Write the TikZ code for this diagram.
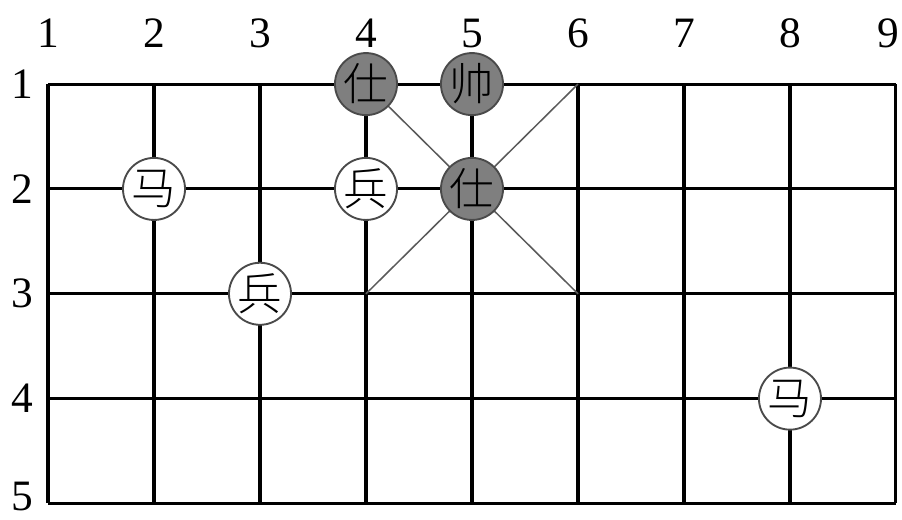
\documentclass[tikz,border=0pt]{standalone}
\usepackage{fontspec}
\setmainfont{Liberation Serif}
\newfontfamily\cjk{Noto Sans CJK SC Light}
\usepackage{xcolor}
\definecolor{piecegray}{HTML}{7f7f7f}
\definecolor{rimgray}{HTML}{4a4a4a}
\definecolor{diaggray}{HTML}{5a5a5a}

\begin{document}
\begin{tikzpicture}[x=3.177cm,y=-3.1425cm,
  gridline/.style={black,line width=2.6pt},
  palace/.style={diaggray,line width=1.3pt},
  blackpiece/.style={circle,draw=rimgray,line width=1.6pt,fill=piecegray,minimum size=1.86cm,inner sep=0pt,font=\cjk\fontsize{38}{40}\selectfont},
  redpiece/.style={circle,draw=rimgray,line width=1.6pt,fill=white,minimum size=1.86cm,inner sep=0pt,font=\cjk\fontsize{38}{40}\selectfont},
  numlabel/.style={inner sep=0pt,font=\fontsize{37}{40}\selectfont}]
  \useasboundingbox (0.547,0.198) rectangle (9.057,5.151);
  % board
  \foreach \r in {1,...,5}
    \draw[gridline] (1,\r) -- (9,\r);
  \foreach \c in {1,...,9}
    \draw[gridline] (\c,1) -- (\c,5);
  \coordinate (p41) at (4,1);
  \coordinate (p61) at (6,1);
  \coordinate (p43) at (4,3);
  \coordinate (p63) at (6,3);
  \draw[palace] (p41) -- (p63);
  \draw[palace] (p61) -- (p43);
  % numbers
  \foreach \c/\x in {1/1,2/2,3/3,4/4,5/5,6/6,7/7,8/8,9/8.93}
    \node[numlabel] (col\c) at (\x,0.515) {\c};
  \foreach \r/\y in {1/1,2/2,3/3,4/4,5/4.93}
    \node[numlabel] (row\r) at (0.755,\y) {\r};
  % pieces
  \node[blackpiece] (shiA) at (4,1) {仕};
  \node[blackpiece] (shuai) at (5,1) {帅};
  \node[blackpiece] (shiB) at (5,2) {仕};
  \node[redpiece] (maA) at (2,2) {马};
  \node[redpiece] (bingA) at (4,2) {兵};
  \node[redpiece] (bingB) at (3,3) {兵};
  \node[redpiece] (maB) at (8,4) {马};
\end{tikzpicture}
\end{document}
